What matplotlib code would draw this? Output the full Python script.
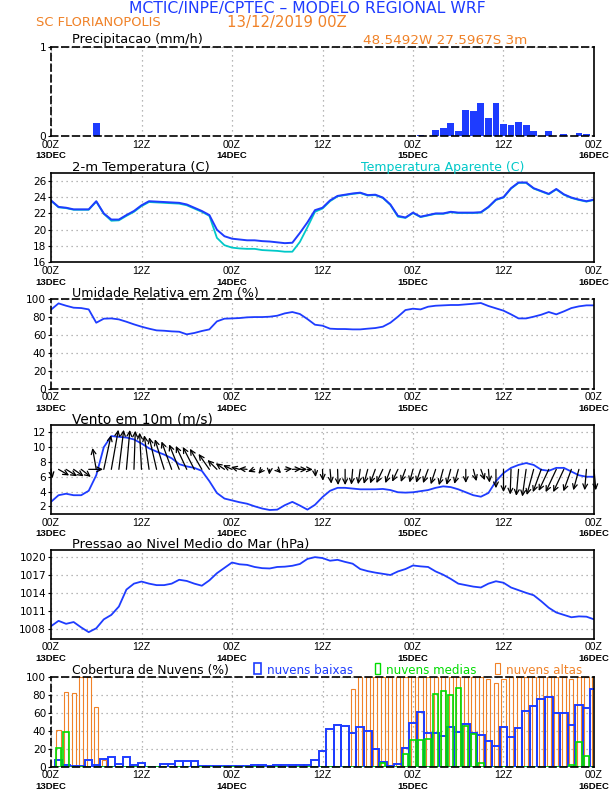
import matplotlib
matplotlib.use('Agg')
import matplotlib.pyplot as plt
from matplotlib import font_manager as fm
from matplotlib.patches import Rectangle
import numpy as np

# ---------------- data (hourly, 00Z 13DEC .. 00Z 16DEC) ----------------
forecast_hours = list(range(73))
tick_hours = [0, 12, 24, 36, 48, 60, 72]
hour_labels = ['00Z', '12Z', '00Z', '12Z', '00Z', '12Z', '00Z']
date_labels = ['13DEC', '', '14DEC', '', '15DEC', '', '16DEC']

precip = [0, 0, 0, 0, 0, 0, 0.14, 0, 0, 0,
          0, 0, 0, 0, 0, 0, 0, 0, 0, 0,
          0, 0, 0, 0, 0, 0, 0, 0, 0, 0,
          0, 0, 0, 0, 0, 0.003, 0.003, 0.003, 0.003, 0,
          0, 0, 0, 0, 0.003, 0, 0, 0, 0.005, 0.015,
          0.005, 0.067, 0.093, 0.15, 0.056, 0.29, 0.28, 0.37, 0.205, 0.37,
          0.134, 0.123, 0.157, 0.123, 0.056, 0.005, 0.056, 0.005, 0.022, 0.005,
          0.034, 0.022, 0]

temp = [23.6, 22.8, 22.7, 22.5, 22.5, 22.5, 23.5, 22.0, 21.25, 21.25,
        21.8, 22.3, 23.0, 23.5, 23.45, 23.4, 23.35, 23.3, 23.1, 22.7,
        22.3, 21.8, 20.0, 19.2, 18.9, 18.8, 18.7, 18.7, 18.6, 18.55,
        18.45, 18.35, 18.4, 19.6, 20.9, 22.4, 22.7, 23.6, 24.15, 24.3,
        24.45, 24.55, 24.25, 24.3, 23.95, 23.1, 21.7, 21.5, 22.1, 21.6,
        21.8, 22.0, 22.0, 22.2, 22.1, 22.1, 22.1, 22.15, 22.8, 23.7,
        24.0, 25.1, 25.8, 25.8, 25.1, 24.75, 24.4, 25.0, 24.35, 23.95,
        23.7, 23.5, 23.7]

temp_apparent = [23.55, 22.75, 22.65, 22.45, 22.45, 22.45, 23.45, 21.95, 21.1, 21.15,
                 21.7, 22.2, 22.9, 23.4, 23.35, 23.3, 23.25, 23.2, 23.0, 22.6,
                 22.2, 21.7, 19.0, 18.1, 17.8, 17.7, 17.65, 17.65, 17.5, 17.45,
                 17.4, 17.3, 17.3, 18.5, 20.3, 22.2, 22.6, 23.5, 24.1, 24.25,
                 24.4, 24.5, 24.2, 24.25, 23.9, 23.05, 21.6, 21.45, 22.05, 21.55,
                 21.75, 21.95, 21.95, 22.15, 22.05, 22.05, 22.05, 22.1, 22.75, 23.65,
                 23.95, 25.05, 25.75, 25.75, 25.05, 24.7, 24.35, 24.95, 24.3, 23.9,
                 23.65, 23.45, 23.65]

rh = [87.8, 94.8, 92.2, 90.0, 89.6, 88.1, 73.3, 77.8, 78.1, 77.0,
      74.4, 71.5, 68.9, 66.7, 64.8, 64.4, 63.7, 63.3, 60.4, 61.9,
      64.1, 65.9, 74.8, 77.8, 78.1, 78.5, 79.3, 79.6, 79.6, 80.0,
      81.1, 83.7, 85.2, 83.0, 77.4, 71.1, 70.0, 66.7, 66.3, 66.3,
      65.9, 65.9, 66.7, 67.4, 68.9, 73.3, 80.0, 87.4, 88.9, 88.1,
      91.1, 92.2, 92.6, 93.0, 93.0, 93.7, 94.4, 95.2, 91.9, 89.3,
      86.7, 82.6, 78.1, 78.1, 80.0, 82.2, 85.2, 82.6, 85.9, 89.6,
      91.5, 92.6, 92.6]

wind_speed = [2.6, 3.5, 3.7, 3.5, 3.5, 4.1, 6.2, 10.0, 11.5, 11.4,
              11.3, 11.05, 10.5, 9.85, 9.4, 9.0, 8.5, 7.7, 7.4, 7.2,
              6.8, 5.4, 3.8, 3.05, 2.8, 2.55, 2.35, 2.0, 1.7, 1.5,
              1.55, 2.15, 2.6, 2.1, 1.55, 2.2, 3.25, 4.1, 4.5, 4.5,
              4.4, 4.3, 4.3, 4.3, 4.35, 4.2, 3.9, 3.85, 3.9, 4.05,
              4.2, 4.5, 4.7, 4.6, 4.3, 3.9, 3.5, 3.3, 3.8, 5.4,
              6.5, 7.2, 7.6, 7.85, 7.6, 6.95, 6.8, 7.2, 7.2, 6.7,
              6.2, 6.0, 6.0]

# meteorological direction (degrees, wind blowing FROM)
wind_dir = [350, 300, 302, 305, 308, 270, 170, 192, 190, 187,
            185, 182, 177, 172, 167, 163, 160, 158, 155, 153,
            150, 145, 135, 125, 115, 105, 95, 70, 40, 5,
            315, 265, 268, 270, 272, 355, 358, 355, 358, 0,
            5, 8, 15, 20, 25, 20, 25, 20, 15, 18,
            20, 18, 15, 15, 15, 0, 345, 340, 355, 0,
            0, 2, 5, 8, 15, 20, 25, 25, 25, 20,
            15, 5, 355]

pressure = [1008.4, 1009.3, 1008.8, 1009.1, 1008.2, 1007.4, 1008.05, 1009.55, 1010.3, 1011.7,
            1014.55, 1015.55, 1015.9, 1015.55, 1015.3, 1015.3, 1015.55, 1016.2, 1016.0, 1015.55,
            1015.2, 1016.1, 1017.3, 1018.2, 1019.1, 1018.8, 1018.7, 1018.35, 1018.15, 1018.1,
            1018.35, 1018.4, 1018.55, 1018.85, 1019.7, 1020.0, 1019.85, 1019.4, 1019.55, 1019.2,
            1018.9, 1018.0, 1017.65, 1017.4, 1017.2, 1017.0, 1017.6, 1018.0, 1018.6, 1018.45,
            1018.35, 1017.6, 1017.05, 1016.35, 1015.55, 1015.3, 1015.05, 1014.9, 1015.55, 1015.95,
            1015.7, 1014.9, 1014.45, 1014.0, 1013.6, 1012.6, 1011.5, 1010.7, 1010.3, 1009.9,
            1010.05, 1010.0, 1009.55]

cloud_low = [0, 8, 2, 1, 1, 7, 2, 9, 11, 3,
             11, 2, 4, 0, 0, 3, 3, 6, 6, 6,
             1, 0.5, 0.5, 1, 1, 0.5, 1, 2, 1.5, 0.5,
             1.5, 1.5, 2, 1.5, 2, 7, 18, 42, 46, 45,
             38, 44, 40, 20, 5, 1, 3, 21, 49, 61,
             37, 37, 34, 44, 39, 47, 38, 35, 29, 23,
             44, 33, 43, 62, 67, 75, 78, 60, 60, 46,
             69, 65, 86]

cloud_mid = [0, 21, 39, 0, 0, 0, 0, 0, 0, 0,
             0, 0, 0, 0, 0, 0, 0, 0, 0, 0,
             0, 0, 0, 0, 0, 0, 0, 0, 0, 0,
             0, 0, 0, 0, 0, 0, 0, 0, 0, 0,
             0, 0, 0, 0, 4, 0, 0, 14, 30, 30,
             31, 81, 84, 80, 88, 45, 36, 4, 0, 0,
             0, 0, 0, 0, 0, 0, 0, 0, 0, 2,
             27, 12, 0]

cloud_high = [0, 41, 83, 82, 100, 100, 66, 8, 0, 0,
              0, 0, 0, 0, 0, 0, 0, 0, 0, 0,
              0, 0, 0, 0, 0, 0, 0, 0, 0, 0,
              0, 0, 0, 0, 0, 0, 0, 0, 0, 0,
              86, 100, 100, 100, 100, 100, 100, 100, 100, 100,
              100, 100, 100, 100, 100, 100, 100, 100, 97, 93,
              97, 100, 100, 100, 100, 100, 100, 100, 100, 98,
              100, 100, 100]

# ---------------- style ----------------
BLUE = '#1e3cff'
ORANGE = '#f08228'
CYAN = '#00c8c8'
GREEN = '#00dc00'
GRID = '#a0a0a0'

names = {f.name for f in fm.fontManager.ttflist}
if 'Liberation Sans Narrow' in names:
    XFAM, XFS, DFS = 'Liberation Sans Narrow', 8.5, 8.0
elif 'Liberation Sans' in names:
    XFAM, XFS, DFS = 'Liberation Sans', 7.6, 6.8
else:
    XFAM, XFS, DFS = 'DejaVu Sans', 7.0, 6.3

W, H = 612, 792
fig = plt.figure(figsize=(W / 100, H / 100), dpi=100)
renderer = fig.canvas.get_renderer()


def fx(px):
    return px / W


def fy(py):
    return 1 - py / H


AX_L, AX_R = 51, 594


def new_ax(top, bot, dashed=False):
    ax = fig.add_axes([fx(AX_L), fy(bot), (AX_R - AX_L) / W, (bot - top) / H])
    ax.set_xlim(0, 72)
    ax.set_xticks(tick_hours)
    ax.set_xticklabels([])
    ax.tick_params(axis='x', length=0)
    ax.tick_params(axis='y', direction='out', length=2, width=0.8, pad=1.5, labelsize=7.6)
    ax.grid(True, color=GRID, linestyle=(0, (1, 3)), linewidth=0.9)
    ax.set_axisbelow(True)
    for s in ax.spines.values():
        s.set_linewidth(1.2)
    if dashed:
        for k in ('top', 'bottom', 'left'):
            ax.spines[k].set_linestyle((0, (4, 2.5)))
    for h, z, d in zip(tick_hours, hour_labels, date_labels):
        ax.annotate(z, xy=(h, 0), xycoords=('data', 'axes fraction'), xytext=(0, -8.8 * 0.72),
                    textcoords='offset points', ha='center', va='center', fontsize=XFS,
                    family=XFAM, annotation_clip=False)
        if d:
            ax.annotate(d, xy=(h, 0), xycoords=('data', 'axes fraction'), xytext=(0, -19.8 * 0.72),
                        textcoords='offset points', ha='center', va='center', fontsize=DFS,
                        family=XFAM, fontweight='bold', annotation_clip=False)
    return ax


SHRINK = 0.9


def fit_text(s, xl, xr, yc, color='black', center=False):
    t = fig.text(fx(xl), fy(yc), s, ha='left', va='center', color=color, fontsize=10,
                 family='DejaVu Sans')
    w = t.get_window_extent(renderer).width
    t.set_fontsize(10 * (xr - xl) / w * SHRINK)
    if center:
        t.set_position((fx((xl + xr) / 2), fy(yc)))
        t.set_ha('center')
    return t


# ---------------- header ----------------
fit_text('MCTIC/INPE/CPTEC \u2013 MODELO REGIONAL WRF', 109, 506, 9, BLUE, center=True)
fit_text('SC FLORIANOPOLIS', 36, 175, 22, ORANGE)
fit_text('13/12/2019 00Z', 227, 359, 22, ORANGE)

# ---------------- panel 1: precipitation ----------------
ax1 = new_ax(46.7, 136, dashed=True)
ax1.bar(forecast_hours, precip, width=0.9, color=BLUE, linewidth=0)
ax1.set_ylim(0, 1)
ax1.set_yticks([0, 1])
fit_text('Precipitacao (mm/h)', 72.5, 218, 40)
fit_text('48.5492W 27.5967S 3m', 363, 544, 40, ORANGE)

# ---------------- panel 2: temperature ----------------
ax2 = new_ax(172.7, 262.3)
ax2.plot(forecast_hours, temp_apparent, color=CYAN, lw=1.3)
ax2.plot(forecast_hours, temp, color=BLUE, lw=1.4)
ax2.set_ylim(16, 27)
ax2.set_yticks([16, 18, 20, 22, 24, 26])
fit_text('2-m Temperatura (C)', 72.5, 225, 167)
fit_text('Temperatura Aparente (C)', 361, 542, 167, CYAN)

# ---------------- panel 3: relative humidity ----------------
ax3 = new_ax(298.7, 388.7, dashed=True)
ax3.plot(forecast_hours, rh, color=BLUE, lw=1.3)
ax3.set_ylim(0, 100)
ax3.set_yticks([0, 20, 40, 60, 80, 100])
fit_text('Umidade Relativa em 2m (%)', 72.5, 279, 293)

# ---------------- panel 4: wind ----------------
ax4 = new_ax(425, 513.7)
ax4.plot(forecast_hours, wind_speed, color=BLUE, lw=1.3)
ax4.set_ylim(1, 13)
ax4.set_yticks([2, 4, 6, 8, 10, 12])
PX_PER_MS = 3.5
for h, s, d in zip(forecast_hours, wind_speed, wind_dir):
    r = np.deg2rad(d)
    u = -s * np.sin(r)
    v = -s * np.cos(r)
    ax4.annotate('', xy=(h, 7), xycoords='data',
                 xytext=(u * PX_PER_MS * 0.72, v * PX_PER_MS * 0.72), textcoords='offset points',
                 arrowprops=dict(arrowstyle='<-,head_length=0.35,head_width=0.17',
                                 lw=0.9, color='black', shrinkA=0, shrinkB=0),
                 annotation_clip=False)
fit_text('Vento em 10m (m/s)', 72.5, 226.7, 419.3)

# ---------------- panel 5: pressure ----------------
ax5 = new_ax(550, 638.7)
ax5.plot(forecast_hours, pressure, color=BLUE, lw=1.3)
ax5.set_ylim(1006.3, 1021.2)
ax5.set_yticks([1008, 1011, 1014, 1017, 1020])
fit_text('Pressao ao Nivel Medio do Mar (hPa)', 72.5, 336.5, 544.5)

# ---------------- panel 6: cloud cover ----------------
ax6 = new_ax(676.7, 766.7, dashed=True)
ax6.bar(forecast_hours, cloud_high, width=0.55, fill=False, edgecolor=ORANGE, linewidth=0.8)
ax6.bar(forecast_hours, cloud_low, width=1.0, fill=False, edgecolor=BLUE, linewidth=1.4)
ax6.bar(forecast_hours, cloud_mid, width=0.7, fill=False, edgecolor=GREEN, linewidth=1.2)
ax6.set_ylim(0, 100)
ax6.set_yticks([0, 20, 40, 60, 80, 100])
fit_text('Cobertura de Nuvens (%)', 72.5, 247, 670.5)
fit_text('nuvens baixas', 266.7, 361.6, 670.5, BLUE)
fit_text('nuvens medias', 386, 486, 670.5, GREEN)
fit_text('nuvens altas', 506, 590, 670.5, ORANGE)
for (xa, xb, c, lw) in [(254, 261, BLUE, 1.2), (374.5, 379.6, GREEN, 1.0), (495, 500, ORANGE, 0.8)]:
    fig.add_artist(Rectangle((fx(xa), fy(674)), (xb - xa) / W, 11 / H, transform=fig.transFigure,
                             fill=False, edgecolor=c, linewidth=lw))

fig.savefig('out.png', dpi=100)
